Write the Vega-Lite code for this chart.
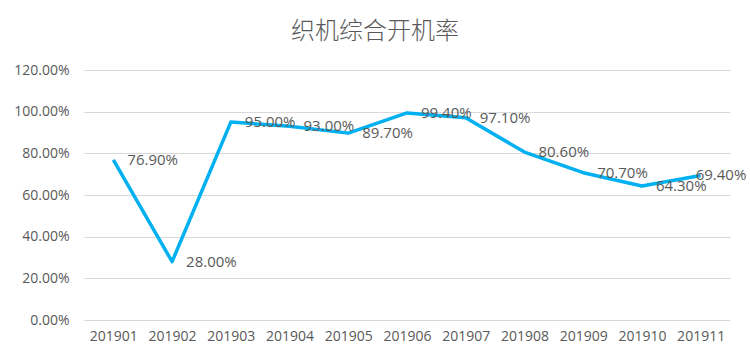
{
  "$schema": "https://vega.github.io/schema/vega-lite/v6.json",
  "autosize": "none",
  "width": 646,
  "height": 250,
  "padding": {"left": 84, "top": 70, "right": 20, "bottom": 42},
  "background": "white",
  "title": {
    "text": "织机综合开机率",
    "font": "Noto Sans CJK SC",
    "fontSize": 24,
    "fontWeight": 300,
    "color": "#595959",
    "anchor": "middle",
    "frame": "group",
    "dx": -32,
    "offset": 19
  },
  "data": {
    "values": [
      {"month": "201901", "rate": 0.769},
      {"month": "201902", "rate": 0.28},
      {"month": "201903", "rate": 0.95},
      {"month": "201904", "rate": 0.93},
      {"month": "201905", "rate": 0.897},
      {"month": "201906", "rate": 0.994},
      {"month": "201907", "rate": 0.971},
      {"month": "201908", "rate": 0.806},
      {"month": "201909", "rate": 0.707},
      {"month": "201910", "rate": 0.643},
      {"month": "201911", "rate": 0.694}
    ]
  },
  "encoding": {
    "x": {
      "field": "month",
      "type": "ordinal",
      "scale": {"type": "point", "padding": 0.5},
      "axis": {
        "title": null,
        "labelAngle": 0,
        "domain": false,
        "ticks": false,
        "grid": false,
        "labelFont": "Open Sans",
        "labelFontSize": 14,
        "labelColor": "#595959",
        "labelPadding": 9
      }
    },
    "y": {
      "field": "rate",
      "type": "quantitative",
      "scale": {"domain": [0, 1.2]},
      "axis": {
        "title": null,
        "format": ".2%",
        "values": [0, 0.2, 0.4, 0.6, 0.8, 1.0, 1.2],
        "domain": false,
        "ticks": false,
        "gridColor": "#d9d9d9",
        "gridWidth": 1,
        "labelFont": "Open Sans",
        "labelFontSize": 14,
        "labelColor": "#595959",
        "labelPadding": 15
      }
    }
  },
  "layer": [
    {
      "mark": {"type": "line", "color": "#00B0F0", "strokeWidth": 3.5, "strokeJoin": "round"}
    },
    {
      "transform": [{"filter": "datum.month != '201911'"}],
      "mark": {"type": "text", "align": "left", "baseline": "middle", "dx": 14, "font": "Open Sans", "fontSize": 15, "color": "#595959"},
      "encoding": {"text": {"field": "rate", "type": "quantitative", "format": ".2%"}}
    },
    {
      "transform": [{"filter": "datum.month == '201911'"}],
      "mark": {"type": "text", "align": "left", "baseline": "middle", "dx": -5, "font": "Open Sans", "fontSize": 15, "color": "#595959"},
      "encoding": {"text": {"field": "rate", "type": "quantitative", "format": ".2%"}}
    }
  ],
  "config": {"view": {"stroke": null}}
}
